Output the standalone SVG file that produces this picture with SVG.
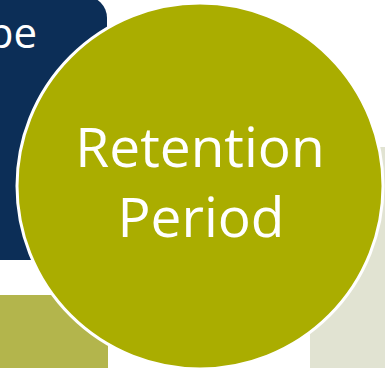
<svg xmlns="http://www.w3.org/2000/svg" width="385" height="368" viewBox="0 0 385 368">
  <style>
    .label { font-family: "Open Sans", "Liberation Sans", sans-serif; fill: #ffffff; }
  </style>
  <rect width="385" height="368" fill="#ffffff"/>

  <!-- background tiles behind the central circle -->
  <g id="tile-scope">
    <rect x="-30" y="-4" width="137" height="264" rx="22" fill="#0c2e57"/>
    <text class="label" x="37" y="48" font-size="42" text-anchor="end">Scope</text>
  </g>
  <g id="tile-lower-left">
    <rect x="-30" y="295" width="138" height="100" rx="10" fill="#b3b54c"/>
  </g>
  <g id="tile-right">
    <rect x="310" y="147" width="100" height="240" rx="10" fill="#e1e3d2"/>
  </g>

  <g id="connectors"></g>

  <!-- central circle -->
  <g id="retention-period">
    <circle cx="200" cy="186" r="183" fill="#aaad00" stroke="#ffffff" stroke-width="3"/>
    <text class="label" x="200" y="167" font-size="55" text-anchor="middle">Retention</text>
    <text class="label" x="201" y="237" font-size="55" text-anchor="middle">Period</text>
  </g>
</svg>
